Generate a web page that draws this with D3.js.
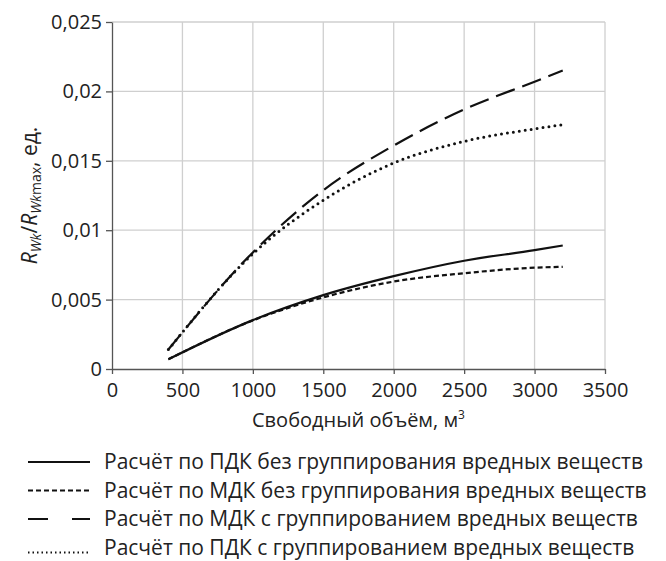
<!DOCTYPE html>
<html>
<head>
<meta charset="utf-8">
<script src="https://cdn.jsdelivr.net/npm/d3@7"></script>
<style>
  body { margin: 0; background: #fff; }
  text { font-family: "Open Sans", sans-serif; fill: #222; }
</style>
</head>
<body>
<script>
// volumes, m3
var volumes = [400, 1000, 1500, 2000, 2500, 3000, 3200];
// series values
var pdkNoGroup = [0.0007, 0.00352, 0.00532, 0.00669, 0.0078, 0.00856, 0.0089];
var mdkNoGroup = [0.0007, 0.0035, 0.00516, 0.0063, 0.0069, 0.0073, 0.00736];
var mdkGroup   = [0.0014, 0.0084, 0.01288, 0.0161, 0.0187, 0.0207, 0.0215];
var pdkGroup   = [0.0014, 0.0083, 0.01216, 0.01484, 0.0164, 0.0173, 0.0176];
var seriesNames = [
  "Расчёт по ПДК без группирования вредных веществ",
  "Расчёт по МДК без группирования вредных веществ",
  "Расчёт по МДК с группированием вредных веществ",
  "Расчёт по ПДК с группированием вредных веществ"
];
var xTicks = [0, 500, 1000, 1500, 2000, 2500, 3000, 3500];
var yTicks = [0, 0.005, 0.01, 0.015, 0.02, 0.025];
var yTickLabels = ["0", "0,005", "0,01", "0,015", "0,02", "0,025"];

var dashes = ["none", "5,3", "20,8", "0,6"];
var series = [pdkNoGroup, mdkNoGroup, mdkGroup, pdkGroup];

var margin = {top: 22, left: 112, right: 61, bottom: 192},
    width = 666 - margin.left - margin.right,
    height = 561 - margin.top - margin.bottom;

var x = d3.scaleLinear().domain([0, 3500]).range([0, width]),
    y = d3.scaleLinear().domain([0, 0.025]).range([height, 0]);

var svg = d3.select("body").append("svg")
    .attr("width", 666)
    .attr("height", 561);

var g = svg.append("g")
    .attr("transform", "translate(" + margin.left + "," + margin.top + ")");

// grid
g.selectAll(".vgrid").data(xTicks.slice(1)).enter().append("line")
    .attr("x1", function(d) { return x(d); }).attr("x2", function(d) { return x(d); })
    .attr("y1", 0).attr("y2", height)
    .attr("stroke", "#cfcfcf").attr("stroke-width", 1.3);
g.selectAll(".hgrid").data(yTicks.slice(1)).enter().append("line")
    .attr("x1", 0).attr("x2", width)
    .attr("y1", function(d) { return y(d); }).attr("y2", function(d) { return y(d); })
    .attr("stroke", "#cfcfcf").attr("stroke-width", 1.3);

// axes
var xAxis = g.append("g")
    .attr("transform", "translate(0," + height + ")")
    .call(d3.axisBottom(x).tickValues(xTicks).tickSize(5).tickSizeOuter(0).tickPadding(9)
      .tickFormat(d3.format("d")));
var yAxis = g.append("g")
    .call(d3.axisLeft(y).tickValues(yTicks).tickSize(6).tickSizeOuter(0).tickPadding(4)
      .tickFormat(function(d, i) { return yTickLabels[i]; }));
[xAxis, yAxis].forEach(function(a) {
  a.select(".domain").attr("stroke", "#555").attr("stroke-width", 1.3);
  a.selectAll(".tick line").attr("stroke", "#555").attr("stroke-width", 1.3);
  a.selectAll(".tick text").attr("font-size", 20).attr("font-family", "Open Sans").attr("fill", "#222");
});

// lines
var line = d3.line()
    .x(function(d, i) { return x(volumes[i]); })
    .y(function(d) { return y(d); })
    .curve(d3.curveMonotoneX);

g.selectAll(".series").data(series).enter().append("path")
    .attr("fill", "none")
    .attr("stroke", "#111")
    .attr("stroke-width", function(d, i) { return i == 3 ? 3 : 2.2; })
    .attr("stroke-dasharray", function(d, i) { return dashes[i]; })
    .attr("stroke-linecap", function(d, i) { return i == 3 ? "round" : "butt"; })
    .attr("d", line);

// axis titles
svg.append("text")
    .attr("x", margin.left + width / 2)
    .attr("y", 427)
    .attr("text-anchor", "middle")
    .attr("font-size", 20)
    .html("Свободный объём, м<tspan dy='-8' font-size='12'>3</tspan>");

svg.append("text")
    .attr("transform", "translate(37," + (margin.top + height / 2) + ") rotate(-90)")
    .attr("text-anchor", "middle")
    .attr("font-size", 21)
    .html("<tspan font-style='italic'>R</tspan><tspan font-size='14' dy='4' font-style='italic'>Wk</tspan>" +
          "<tspan dy='-4'>/</tspan><tspan font-style='italic'>R</tspan>" +
          "<tspan font-size='14' dy='4'><tspan font-style='italic'>Wk</tspan>max</tspan><tspan dy='-4'>, ед.</tspan>");

// legend
var legend = svg.selectAll(".legend").data(seriesNames).enter().append("g")
    .attr("transform", function(d, i) { return "translate(28," + (469 + i * 28.5) + ")"; });
legend.append("line")
    .attr("x1", 0).attr("x2", 62)
    .attr("y1", function(d, i) { return i == 3 ? -2 : -7; })
    .attr("y2", function(d, i) { return i == 3 ? -2 : -7; })
    .attr("stroke", "#111")
    .attr("stroke-width", function(d, i) { return i == 3 ? 1.8 : 2.2; })
    .attr("stroke-dasharray", function(d, i) { return i == 2 ? "20,24" : i == 3 ? "1.5,3" : dashes[i]; });
legend.append("text")
    .attr("x", 76)
    .attr("y", 0)
    .attr("font-size", 21)
    .text(function(d) { return d; });
</script>
</body>
</html>
